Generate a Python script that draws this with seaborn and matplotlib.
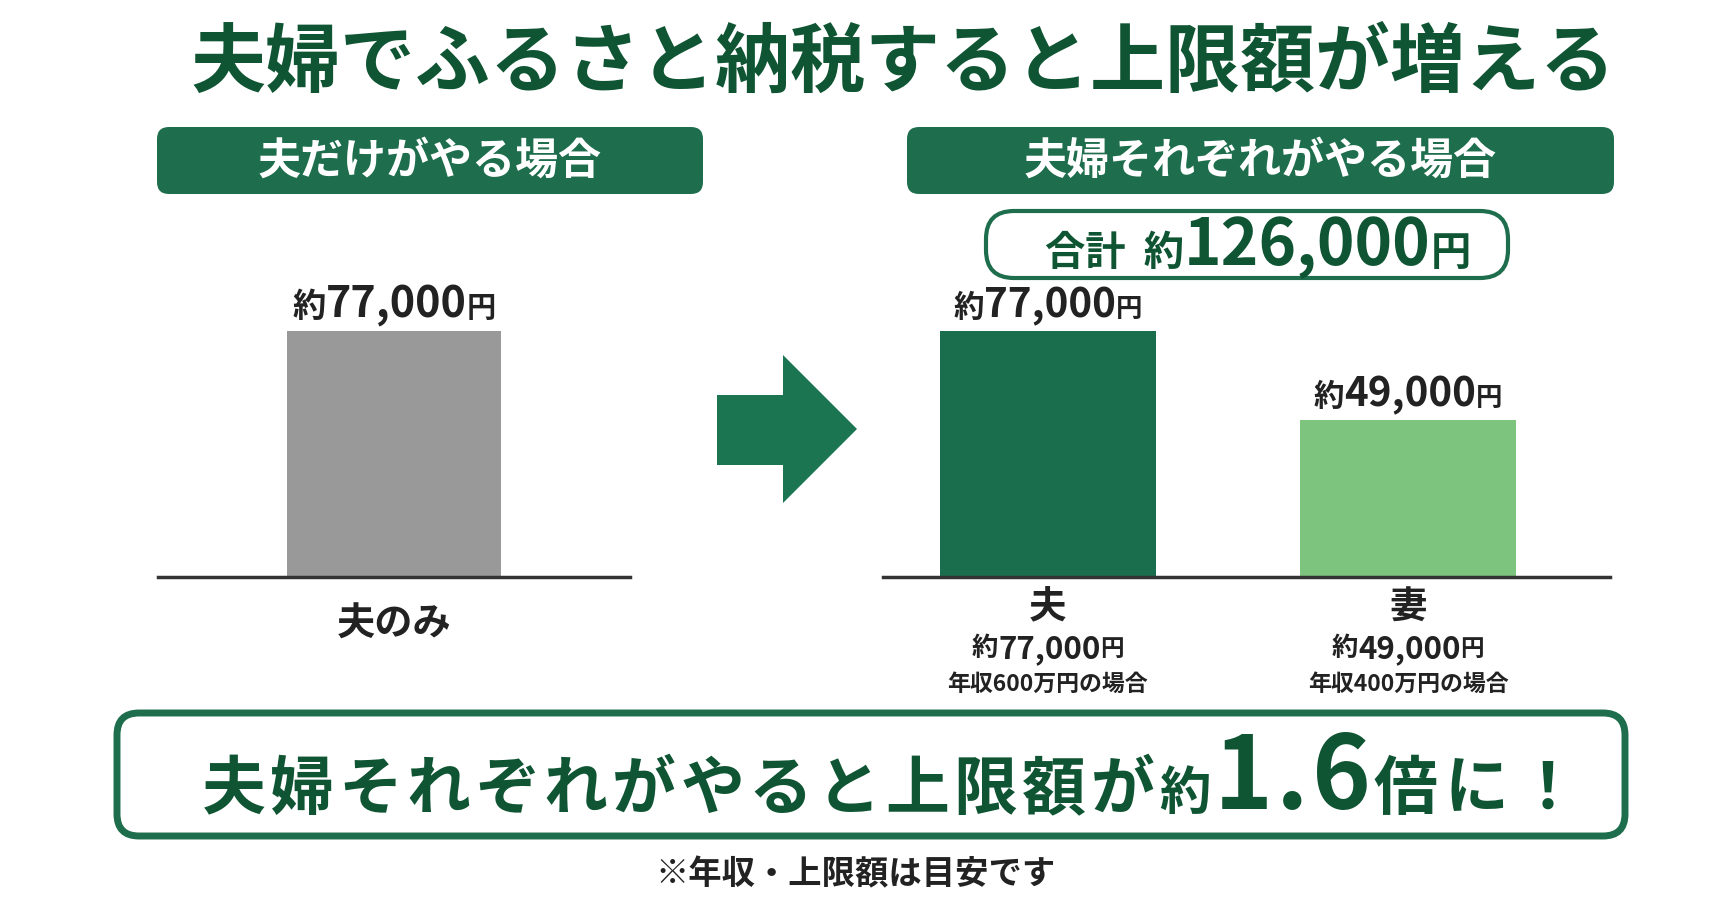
import matplotlib
matplotlib.use("Agg")
import matplotlib.pyplot as plt
import seaborn as sns
import pandas as pd
from matplotlib.patches import FancyBboxPatch, Polygon
from matplotlib import transforms

# ---------------- data ----------------
title = "夫婦でふるさと納税すると上限額が増える"
header_left = "夫だけがやる場合"
header_right = "夫婦それぞれがやる場合"
single_cats = ["夫のみ"]
single_vals = [77000]
couple_cats = ["夫", "妻"]
couple_vals = [77000, 49000]
couple_income = ["年収600万円の場合", "年収400万円の場合"]
total_value = 126000
ratio_text = "1.6"
footnote = "※年収・上限額は目安です"

# ---------------- style ----------------
sns.set_theme(style="white")
plt.rcParams['font.family'] = ['Noto Sans CJK JP', 'DejaVu Sans']

GREEN_DARK = "#0f5533"
GREEN_BOX = "#1e6e4d"
BAR_DARK = "#1b6e4d"
BAR_LIGHT = "#7dc47e"
BAR_GRAY = "#999999"
ARROW = "#1a7550"
TXT = "#222222"

W, H = 1731, 909
fig = plt.figure(figsize=(W / 100, H / 100), dpi=100)
fig.patch.set_facecolor("white")

bg = fig.add_axes([0, 0, 1, 1], zorder=0)
bg.set_xlim(0, W)
bg.set_ylim(H, 0)
bg.axis("off")

renderer = fig.canvas.get_renderer()


def pieces_text(ax, x, y, pieces, transform, color, va="baseline", dy=0):
    """pieces: list of (text, fontsize) or (text, fontsize, tracking_px)."""
    items = []
    for p in pieces:
        s, size = p[0], p[1]
        track = p[2] if len(p) > 2 else 0
        if track:
            for ch in s:
                items.append((ch, size, track))
        else:
            items.append((s, size, 0))
    texts, widths = [], []
    for s, size, track in items:
        t = ax.text(x, y, s, fontsize=size, fontweight="bold", color=color,
                    transform=transform, ha="left", va=va, zorder=5)
        widths.append(t.get_window_extent(renderer).width + track)
        texts.append(t)
    off = -sum(widths) / 2
    for t, w in zip(texts, widths):
        t.set_transform(transforms.offset_copy(transform, fig=fig, x=off, y=dy, units="dots"))
        off += w
    return texts


# ---------------- decorations ----------------
bg.text(903, 64, title, ha="center", va="center", fontsize=54,
        fontweight="bold", color=GREEN_DARK)

for (x0, x1), label in [((157, 703), header_left), ((907, 1614), header_right)]:
    bg.add_patch(FancyBboxPatch((x0, 127), x1 - x0, 67,
                                boxstyle="round,pad=0,rounding_size=12",
                                fc=GREEN_BOX, ec="none"))
    bg.text((x0 + x1) / 2, 161, label, ha="center", va="center",
            fontsize=31, fontweight="bold", color="white")

bg.add_patch(FancyBboxPatch((986, 211), 522, 67,
                            boxstyle="round,pad=0,rounding_size=28",
                            fc="white", ec=GREEN_BOX, lw=3))
pieces_text(bg, 1258, 265,
            [("合計  約", 29), (f"{total_value:,}", 46), ("円", 29)],
            bg.transData, GREEN_DARK)

bg.add_patch(Polygon([(717, 395), (783, 395), (783, 355), (857, 429),
                      (783, 503), (783, 465), (717, 465)],
                     closed=True, fc=ARROW, ec="none"))

bg.add_patch(FancyBboxPatch((117, 713), 1508, 123,
                            boxstyle="round,pad=0,rounding_size=22",
                            fc="white", ec=GREEN_BOX, lw=5))
pieces_text(bg, 894, 809,
            [("夫婦それぞれがやると上限額が", 46, 4.5), ("約", 37, 4),
             (ratio_text, 72, 3), ("倍に！", 46, 7)],
            bg.transData, GREEN_DARK)

bg.text(856, 875, footnote, ha="center", va="center", fontsize=24,
        fontweight="bold", color=TXT)

# ---------------- bar axes ----------------
base_y = 577
ax_h = 319.5
ax1 = fig.add_axes([158 / W, 1 - base_y / H, (630 - 158) / W, ax_h / H], zorder=1)
ax2 = fig.add_axes([883 / W, 1 - base_y / H, (1610 - 883) / W, ax_h / H], zorder=1)

df1 = pd.DataFrame({"cat": single_cats, "val": single_vals})
df2 = pd.DataFrame({"cat": couple_cats, "val": couple_vals})

sns.barplot(data=df1, x="cat", y="val", color=BAR_GRAY, saturation=1,
            width=0.453, linewidth=0, ax=ax1)
sns.barplot(data=df2, x="cat", y="val", hue="cat", palette=[BAR_DARK, BAR_LIGHT],
            saturation=1, width=0.6, linewidth=0, legend=False, ax=ax2)

ax1.set_xlim(-0.5, 0.5)
ax2.set_xlim(-0.458, 1.561)
for ax in (ax1, ax2):
    ax.set_ylim(0, 100000)
    ax.set_facecolor("none")
    ax.set_xticks([])
    ax.set_yticks([])
    ax.set_xlabel("")
    ax.set_ylabel("")
    for s in ("left", "right", "top"):
        ax.spines[s].set_visible(False)
    ax.spines["bottom"].set_color("#333333")
    ax.spines["bottom"].set_linewidth(2.5)
    ax.spines["bottom"].set_zorder(3)

# value labels above bars
for ax, vals, sz in ((ax1, single_vals, 31), (ax2, couple_vals, 29)):
    for i, v in enumerate(vals):
        pieces_text(ax, i, v, [("約", sz - 7), (f"{v:,}", sz), ("円", sz - 10)],
                    ax.transData, TXT, dy=14)

# category labels
blend1 = transforms.blended_transform_factory(ax1.transData, ax1.transAxes)
for i, c in enumerate(single_cats):
    ax1.text(i, 0, c, transform=transforms.offset_copy(blend1, fig=fig, x=0, y=-47, units="dots"),
             ha="center", va="center", fontsize=27.5, fontweight="bold", color=TXT)

blend2 = transforms.blended_transform_factory(ax2.transData, ax2.transAxes)
for i, (c, v, inc) in enumerate(zip(couple_cats, couple_vals, couple_income)):
    ax2.text(i, 0, c, transform=transforms.offset_copy(blend2, fig=fig, x=0, y=-30, units="dots"),
             ha="center", va="center", fontsize=27, fontweight="bold", color=TXT)
    pieces_text(ax2, i, 0, [("約", 19), (f"{v:,}", 22.5), ("円", 17)],
                blend2, TXT, va="center", dy=-72)
    ax2.text(i, 0, inc, transform=transforms.offset_copy(blend2, fig=fig, x=0, y=-107, units="dots"),
             ha="center", va="center", fontsize=16.5, fontweight="bold", color=TXT)

fig.savefig("out.png", dpi=100, facecolor="white")
